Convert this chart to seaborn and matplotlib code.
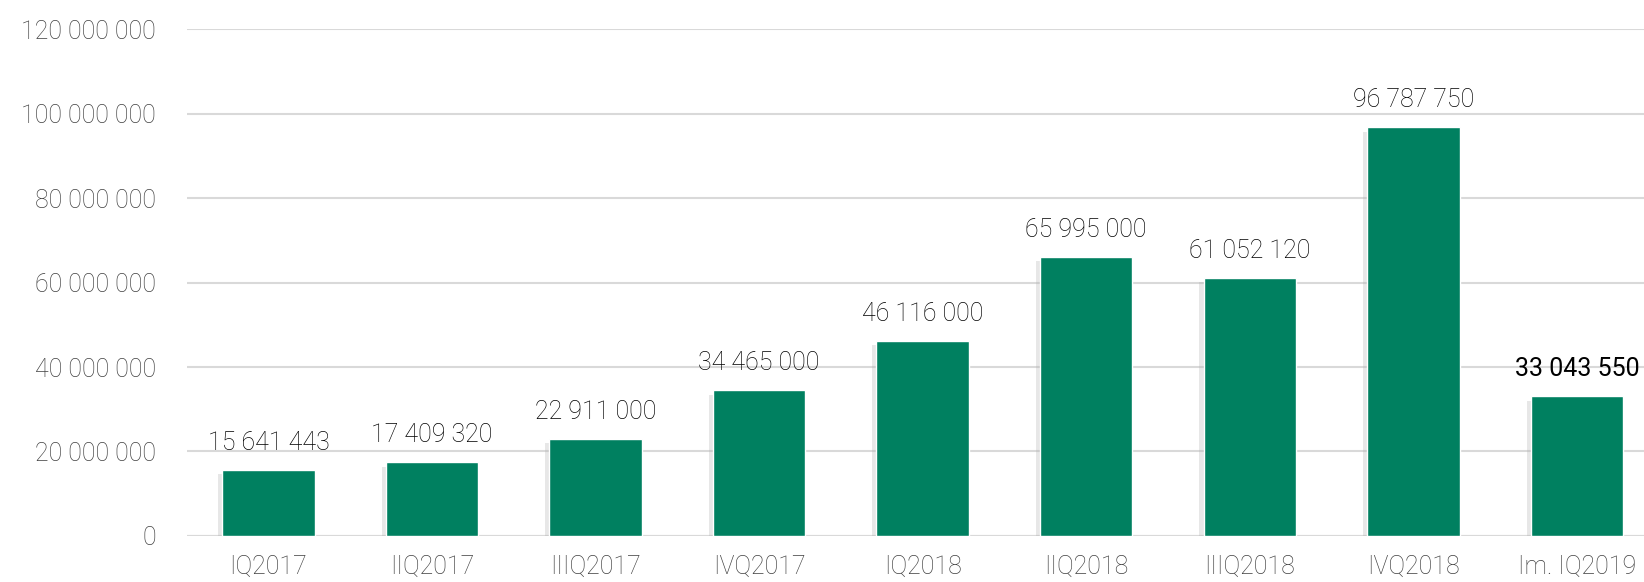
import matplotlib
matplotlib.use('Agg')
import matplotlib.pyplot as plt
import matplotlib.patheffects as pe
import seaborn as sns
import pandas as pd

# Quarterly values
quarters = ['IQ2017', 'IIQ2017', 'IIIQ2017', 'IVQ2017', 'IQ2018',
            'IIQ2018', 'IIIQ2018', 'IVQ2018', 'Im. IQ2019']
values = [15641443, 17409320, 22911000, 34465000, 46116000,
          65995000, 61052120, 96787750, 33043550]
y_ticks = [0, 20000000, 40000000, 60000000, 80000000, 100000000, 120000000]

df = pd.DataFrame({'quarter': quarters, 'value': values})


def fmt(v):
    return f'{v:,}'.replace(',', ' ')


sns.set_style('white')
plt.rcParams['font.family'] = ['Roboto', 'DejaVu Sans']
plt.rcParams['font.weight'] = 'light'

fig = plt.figure(figsize=(16.44, 5.82), dpi=100)
ax = fig.add_axes([0.1135, 0.0793, 0.8865, 0.8702])

sns.barplot(data=df, x='quarter', y='value', color='#008060', saturation=1,
            width=0.565, ax=ax)

# soft Excel-like shadow under the bars
for bar in ax.patches:
    bar.set_path_effects([pe.SimplePatchShadow(offset=(-3, -3), shadow_rgbFace='#b0b0b0', alpha=0.3),
                          pe.Normal()])

ax.set_ylim(0, 120000000)
ax.set_xlim(-0.5, 8.41)
ax.set_yticks(y_ticks)
ax.set_yticklabels([fmt(t) for t in y_ticks])
ax.yaxis.grid(True, color='#d9d9d9', linewidth=1.5)
ax.set_axisbelow(True)
for s in ax.spines.values():
    s.set_visible(False)
ax.axhline(0, color='#d9d9d9', linewidth=1.5, zorder=0)

ax.tick_params(axis='y', length=0, pad=22, labelsize=18, labelcolor='#404040')
ax.tick_params(axis='x', length=0, pad=14, labelsize=18, labelcolor='#404040')
ax.set_xlabel('')
ax.set_ylabel('')

for i, v in enumerate(values):
    last = i == len(values) - 1
    ax.annotate(fmt(v), (i, v), xytext=(0, 11), textcoords='offset points',
                ha='center', va='bottom', fontsize=18, color='black',
                fontweight='normal' if last else 'light')

fig.savefig('out.png', dpi=100)
